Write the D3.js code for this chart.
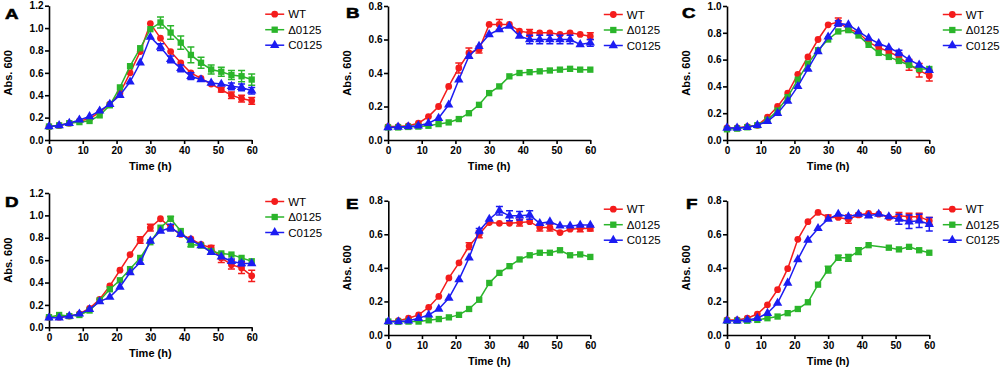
<!DOCTYPE html>
<html>
<head>
<meta charset="utf-8">
<script src="https://cdn.jsdelivr.net/npm/d3@7"></script>
<style>
  body { margin: 0; background: #fff; }
  text { font-family: Arial, "Liberation Sans", sans-serif; }
</style>
</head>
<body>
<svg id="viz" width="1000" height="368"></svg>
<script>
// sampling times (h)
const time_h = [0, 3, 6, 9, 12, 15, 18, 21, 24, 27, 30, 33, 36, 39, 42, 45, 48, 51, 54, 57, 60];
const series_names = ["WT", "\u03940125", "C0125"];
const panel_labels = ["A", "B", "C", "D", "E", "F"];
const y_max = [1.2, 0.8, 1.0, 1.2, 0.8, 0.8];

// panel A
const a_wt = [0.12, 0.13, 0.15, 0.17, 0.19, 0.25, 0.32, 0.42, 0.60, 0.79, 1.04, 0.91, 0.79, 0.69, 0.60, 0.55, 0.50, 0.45, 0.40, 0.37, 0.35];
const a_wt_err = [0, 0, 0, 0, 0, 0, 0, 0, 0, 0, 0, 0, 0, 0, 0, 0, 0, 0.02, 0.03, 0.03, 0.03];
const a_del = [0.12, 0.13, 0.15, 0.16, 0.17, 0.22, 0.31, 0.47, 0.66, 0.82, 0.99, 1.05, 0.96, 0.87, 0.76, 0.69, 0.63, 0.61, 0.58, 0.57, 0.54];
const a_del_err = [0, 0, 0, 0, 0, 0, 0, 0, 0, 0, 0, 0.05, 0.06, 0.06, 0.07, 0.05, 0.04, 0.04, 0.04, 0.05, 0.05];
const a_comp = [0.12, 0.13, 0.15, 0.18, 0.21, 0.26, 0.32, 0.40, 0.52, 0.69, 0.92, 0.83, 0.72, 0.64, 0.57, 0.54, 0.51, 0.50, 0.48, 0.47, 0.44];
const a_comp_err = [0, 0, 0, 0, 0, 0, 0, 0, 0, 0, 0, 0.03, 0.03, 0.03, 0.03, 0, 0, 0, 0.03, 0.03, 0.03];

// panel B
const b_wt = [0.08, 0.08, 0.085, 0.10, 0.14, 0.20, 0.32, 0.43, 0.52, 0.54, 0.69, 0.69, 0.69, 0.65, 0.64, 0.64, 0.64, 0.63, 0.64, 0.63, 0.62];
const b_wt_err = [0, 0, 0, 0, 0, 0, 0, 0.03, 0.03, 0.02, 0, 0.03, 0, 0, 0.02, 0, 0, 0, 0, 0, 0.02];
const b_del = [0.075, 0.075, 0.078, 0.08, 0.085, 0.095, 0.105, 0.125, 0.16, 0.21, 0.28, 0.32, 0.38, 0.40, 0.405, 0.41, 0.415, 0.42, 0.425, 0.42, 0.42];
const b_del_err = [0, 0, 0, 0, 0, 0, 0, 0, 0, 0, 0, 0, 0, 0, 0, 0, 0, 0, 0, 0, 0];
const b_comp = [0.075, 0.078, 0.08, 0.085, 0.10, 0.13, 0.21, 0.36, 0.50, 0.56, 0.63, 0.66, 0.68, 0.62, 0.60, 0.60, 0.60, 0.60, 0.60, 0.57, 0.58];
const b_comp_err = [0, 0, 0, 0, 0, 0, 0, 0, 0, 0, 0, 0, 0, 0, 0.025, 0.025, 0.025, 0.025, 0.025, 0, 0.02];

// panel C
const c_wt = [0.09, 0.09, 0.10, 0.11, 0.17, 0.25, 0.35, 0.49, 0.62, 0.75, 0.86, 0.88, 0.83, 0.80, 0.73, 0.69, 0.66, 0.62, 0.56, 0.52, 0.48];
const c_wt_err = [0, 0, 0, 0, 0, 0, 0, 0, 0, 0, 0, 0.03, 0.02, 0, 0, 0.02, 0.02, 0.03, 0.04, 0.05, 0.04];
const c_del = [0.08, 0.085, 0.095, 0.11, 0.15, 0.22, 0.32, 0.45, 0.57, 0.67, 0.75, 0.81, 0.82, 0.78, 0.71, 0.65, 0.62, 0.59, 0.56, 0.53, 0.53];
const c_del_err = [0, 0, 0, 0, 0, 0, 0, 0, 0, 0, 0, 0, 0, 0, 0, 0, 0, 0, 0, 0, 0];
const c_comp = [0.09, 0.09, 0.095, 0.11, 0.14, 0.20, 0.29, 0.40, 0.53, 0.66, 0.77, 0.87, 0.86, 0.81, 0.76, 0.72, 0.69, 0.65, 0.60, 0.56, 0.52];
const c_comp_err = [0, 0, 0, 0, 0, 0, 0, 0, 0, 0, 0, 0.02, 0, 0, 0, 0, 0, 0.02, 0, 0, 0];

// panel D
const d_wt = [0.09, 0.09, 0.10, 0.12, 0.17, 0.25, 0.37, 0.51, 0.65, 0.78, 0.89, 0.97, 0.89, 0.83, 0.79, 0.74, 0.71, 0.62, 0.56, 0.53, 0.46];
const d_wt_err = [0, 0, 0, 0, 0, 0, 0, 0, 0, 0.03, 0.03, 0, 0.02, 0, 0, 0, 0.02, 0.04, 0.04, 0.05, 0.05];
const d_del = [0.09, 0.11, 0.10, 0.11, 0.15, 0.24, 0.34, 0.42, 0.52, 0.62, 0.76, 0.89, 0.97, 0.86, 0.74, 0.73, 0.68, 0.66, 0.65, 0.62, 0.59];
const d_del_err = [0, 0, 0, 0, 0, 0, 0, 0, 0, 0, 0, 0, 0.02, 0, 0.02, 0, 0, 0, 0, 0, 0];
const d_comp = [0.085, 0.085, 0.10, 0.12, 0.16, 0.23, 0.27, 0.36, 0.49, 0.58, 0.77, 0.86, 0.89, 0.83, 0.78, 0.73, 0.67, 0.63, 0.59, 0.57, 0.57];
const d_comp_err = [0, 0, 0, 0, 0, 0, 0, 0, 0, 0, 0, 0, 0.03, 0, 0, 0, 0, 0, 0.02, 0.02, 0];

// panel E
const e_wt = [0.08, 0.085, 0.10, 0.12, 0.165, 0.23, 0.34, 0.43, 0.53, 0.60, 0.67, 0.665, 0.665, 0.67, 0.675, 0.64, 0.64, 0.61, 0.63, 0.635, 0.635];
const e_wt_err = [0, 0, 0, 0, 0, 0, 0, 0, 0.02, 0.02, 0, 0, 0, 0.02, 0, 0.02, 0.02, 0, 0, 0.02, 0.015];
const e_del = [0.08, 0.078, 0.08, 0.08, 0.088, 0.095, 0.105, 0.12, 0.155, 0.21, 0.31, 0.37, 0.41, 0.45, 0.475, 0.49, 0.49, 0.505, 0.475, 0.48, 0.465];
const e_del_err = [0, 0, 0, 0, 0, 0, 0, 0, 0, 0, 0, 0, 0, 0, 0, 0, 0, 0, 0, 0, 0];
const e_comp = [0.08, 0.08, 0.085, 0.10, 0.12, 0.155, 0.22, 0.33, 0.46, 0.62, 0.69, 0.74, 0.71, 0.71, 0.715, 0.665, 0.675, 0.65, 0.65, 0.655, 0.655];
const e_comp_err = [0, 0, 0, 0, 0, 0, 0, 0, 0, 0.015, 0, 0.025, 0.03, 0.025, 0.025, 0, 0, 0, 0, 0, 0];

// panel F (no deletion-strain reading at 45 h)
const f_wt = [0.09, 0.09, 0.10, 0.125, 0.18, 0.27, 0.395, 0.57, 0.675, 0.73, 0.70, 0.70, 0.69, 0.715, 0.725, 0.72, 0.70, 0.71, 0.705, 0.705, 0.68];
const f_wt_err = [0, 0, 0, 0, 0, 0, 0, 0, 0, 0, 0.015, 0, 0.025, 0.01, 0, 0, 0, 0.02, 0.02, 0.02, 0.02];
const f_del = [0.085, 0.085, 0.085, 0.09, 0.10, 0.11, 0.13, 0.155, 0.195, 0.30, 0.39, 0.46, 0.46, 0.50, 0.535, null, 0.52, 0.51, 0.525, 0.505, 0.49];
const f_del_err = [0, 0, 0, 0, 0, 0, 0, 0, 0, 0, 0.02, 0.015, 0.02, 0.02, 0, 0, 0, 0, 0, 0, 0];
const f_comp = [0.085, 0.085, 0.09, 0.10, 0.13, 0.19, 0.31, 0.45, 0.565, 0.635, 0.69, 0.72, 0.705, 0.72, 0.71, 0.72, 0.705, 0.69, 0.675, 0.68, 0.66];
const f_comp_err = [0, 0, 0, 0, 0, 0, 0, 0, 0, 0, 0, 0, 0, 0, 0, 0, 0, 0.03, 0.04, 0.04, 0.04];

const panel_data = [
    [[a_wt, a_wt_err], [a_del, a_del_err], [a_comp, a_comp_err]],
    [[b_wt, b_wt_err], [b_del, b_del_err], [b_comp, b_comp_err]],
    [[c_wt, c_wt_err], [c_del, c_del_err], [c_comp, c_comp_err]],
    [[d_wt, d_wt_err], [d_del, d_del_err], [d_comp, d_comp_err]],
    [[e_wt, e_wt_err], [e_del, e_del_err], [e_comp, e_comp_err]],
    [[f_wt, f_wt_err], [f_del, f_del_err], [f_comp, f_comp_err]]
];

// layout: plot box of each panel and where its letter sits
const layout = [
    { left: 49, right: 251.7, top: 5.7, bottom: 140, lx: 5, ly: 19 },
    { left: 388, right: 590.3, top: 6, bottom: 140, lx: 346, ly: 17.5 },
    { left: 727, right: 929.3, top: 6, bottom: 140, lx: 682, ly: 17.5 },
    { left: 49, right: 251.7, top: 193, bottom: 327.3, lx: 5, ly: 207 },
    { left: 388.3, right: 590.3, top: 200.7, bottom: 335, lx: 346, ly: 209 },
    { left: 727, right: 929.3, top: 200.7, bottom: 335, lx: 686, ly: 209 }
];

const colors = ["#f41c1c", "#2bb52b", "#1c1cf2"];
const symbols = [d3.symbolCircle, d3.symbolSquare, d3.symbolTriangle];
const sym_size = [36, 40, 38];

const svg = d3.select("#viz");
svg.append("rect").attr("width", 1000).attr("height", 368).attr("fill", "#fff");

function drawPanel(p) {
    const box = layout[p];
    const g = svg.append("g");

    let x = d3.scaleLinear().domain([0, 60]).range([box.left, box.right]);
    let y = d3.scaleLinear().domain([0, y_max[p]]).range([box.bottom, box.top]);

    // axes
    let xa = g.append("g")
        .attr("transform", "translate(0," + box.bottom + ")")
        .call(d3.axisBottom(x).tickValues([0, 10, 20, 30, 40, 50, 60]).tickSize(4).tickSizeOuter(0).tickPadding(3));
    let ya = g.append("g")
        .attr("transform", "translate(" + box.left + ",0)")
        .call(d3.axisLeft(y).ticks(y_max[p] / 0.2).tickFormat(d3.format(".1f")).tickSize(4).tickSizeOuter(0).tickPadding(1.5));
    [xa, ya].forEach(a => {
        a.selectAll("path, line").attr("stroke", "#000").attr("stroke-width", 1.6);
        a.selectAll("text").attr("fill", "#000").style("font-size", "10px").style("font-weight", "bold");
    });

    g.append("text")
        .attr("x", (box.left + box.right) / 2)
        .attr("y", box.bottom + 29.5)
        .attr("text-anchor", "middle")
        .style("font-size", "11px").style("font-weight", "bold")
        .text("Time (h)");
    g.append("text")
        .attr("transform", "translate(" + (box.left - 37) + "," + ((box.top + box.bottom) / 2) + ") rotate(-90)")
        .attr("text-anchor", "middle")
        .style("font-size", "11px").style("font-weight", "bold")
        .text("Abs. 600");
    // panel letter: heavy and a bit wide, like the figure
    g.append("text")
        .attr("transform", "translate(" + box.lx + "," + box.ly + ") scale(1.25,1)")
        .style("font-size", "15px").style("font-weight", "900")
        .attr("stroke", "#000").attr("stroke-width", 0.6)
        .text(panel_labels[p]);

    // series: WT, deletion, complement (complement drawn last)
    panel_data[p].forEach(function (s, i) {
        let pts = time_h.map((t, k) => ({ t: t, v: s[0][k], e: s[1][k] })).filter(d => d.v != null);
        let sg = g.append("g");

        sg.append("path")
            .datum(pts)
            .attr("fill", "none")
            .attr("stroke", colors[i])
            .attr("stroke-width", 1.5)
            .attr("d", d3.line().x(d => x(d.t)).y(d => y(d.v)));

        let errs = pts.filter(d => d.e > 0);
        sg.selectAll(".ebar").data(errs).join("path")
            .attr("fill", "none")
            .attr("stroke", colors[i])
            .attr("stroke-width", 1.5)
            .attr("d", d => {
                let cx = x(d.t), y0 = y(d.v - d.e), y1 = y(d.v + d.e);
                return "M" + (cx - 3.5) + "," + y0 + "H" + (cx + 3.5) +
                    "M" + cx + "," + y0 + "V" + y1 +
                    "M" + (cx - 3.5) + "," + y1 + "H" + (cx + 3.5);
            });

        sg.selectAll(".mark").data(pts).join("path")
            .attr("transform", d => "translate(" + x(d.t) + "," + y(d.v) + ")")
            .attr("d", d3.symbol().type(symbols[i]).size(sym_size[i]))
            .attr("fill", colors[i]);
    });

    // legend
    let lg = g.append("g");
    series_names.forEach(function (name, i) {
        let ly = box.top + 8.5 + i * 15.5;
        let lx = box.right + 13.5;
        lg.append("line")
            .attr("x1", lx).attr("x2", lx + 19)
            .attr("y1", ly).attr("y2", ly)
            .attr("stroke", colors[i]).attr("stroke-width", 1.5);
        lg.append("path")
            .attr("transform", "translate(" + (lx + 9.5) + "," + ly + ")")
            .attr("d", d3.symbol().type(symbols[i]).size(sym_size[i]))
            .attr("fill", colors[i]);
        lg.append("text")
            .attr("x", lx + 23).attr("y", ly + 4)
            .style("font-size", "11.5px")
            .attr("fill", "#000")
            .text(name);
    });
}

for (let p = 0; p < 6; p++) drawPanel(p);
</script>
</body>
</html>
